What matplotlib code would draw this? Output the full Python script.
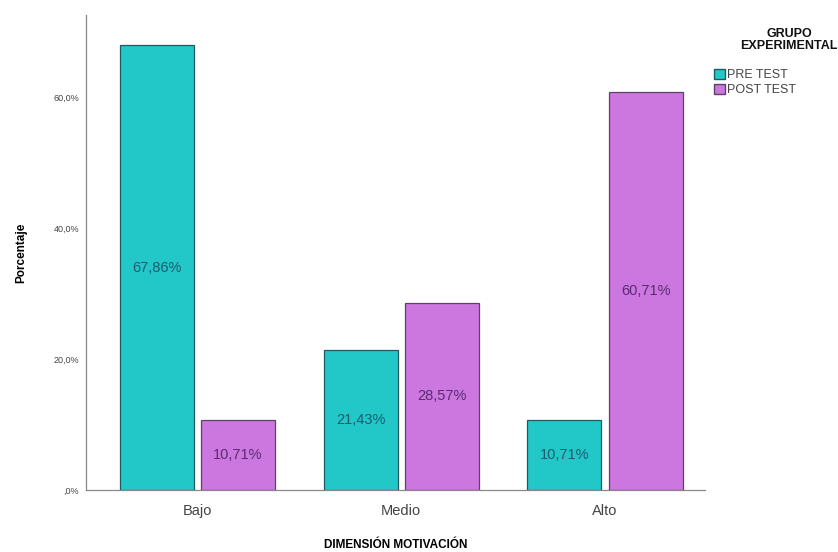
import matplotlib
matplotlib.use("Agg")
import matplotlib.pyplot as plt
import numpy as np
from matplotlib.patches import Patch

categories = ["Bajo", "Medio", "Alto"]
pre_test = [67.86, 21.43, 10.71]
post_test = [10.71, 28.57, 60.71]
series_names = ["PRE TEST", "POST TEST"]
legend_title = "GRUPO\nEXPERIMENTAL"
ytick_vals = [0, 20, 40, 60]
ytick_labels = [",0%", "20,0%", "40,0%", "60,0%"]

plt.rcParams['font.family'] = ['Liberation Sans', 'DejaVu Sans']

W, H = 838, 552
fig = plt.figure(figsize=(W / 100, H / 100), dpi=100)
ax = fig.add_axes([86 / W, 1 - 490 / H, (705 - 86) / W, (490 - 15) / H])

x = np.arange(len(categories))
w = 0.363
off = 0.199
teal = "#22c8c8"
purple = "#cc77e0"
teal_edge = "#1f5a60"
purple_edge = "#5e4266"

b1 = ax.bar(x - off, pre_test, w, color=teal, edgecolor=teal_edge, linewidth=0.9)
b2 = ax.bar(x + off, post_test, w, color=purple, edgecolor=purple_edge, linewidth=0.9)

def fmt(v):
    return f"{v:.2f}".replace(".", ",") + "%"

for bars, vals, c in [(b1, pre_test, "#1d5a72"), (b2, post_test, "#5a2a72")]:
    for r, v in zip(bars, vals):
        ax.text(r.get_x() + r.get_width() / 2, v / 2, fmt(v), ha="center", va="center",
                fontsize=10.5, color=c)

ax.set_xlim(-0.545, 2.49)
ax.set_ylim(0, 72.5)
ax.set_xticks(x)
ax.set_xticklabels(categories, fontsize=10.5, color="#444444")
ax.set_yticks(ytick_vals)
ax.set_yticklabels(ytick_labels, fontsize=6.5, color="#444444")
ax.tick_params(axis="both", length=0)
ax.tick_params(axis="y", pad=5)
ax.tick_params(axis="x", pad=10)
for s in ["top", "right"]:
    ax.spines[s].set_visible(False)
for s in ["left", "bottom"]:
    ax.spines[s].set_color("#888888")
    ax.spines[s].set_linewidth(0.9)

ax.set_xlabel("DIMENSIÓN MOTIVACIÓN", fontsize=8.5, fontweight="bold", labelpad=15)
ax.set_ylabel("Porcentaje", fontsize=8.5, fontweight="bold", labelpad=19)

fig.text(789 / W, 1 - 28 / H, legend_title, ha="center", va="top", fontsize=9,
         fontweight="bold", linespacing=1.05, color="#111111")

handles = [Patch(facecolor=teal, edgecolor=teal_edge), Patch(facecolor=purple, edgecolor=purple_edge)]
leg = fig.legend(handles, series_names, loc="upper left",
                 bbox_to_anchor=(714 / W, 1 - 69 / H), frameon=False, fontsize=9,
                 handlelength=0.85, handleheight=0.85,
                 handletextpad=0.2, labelspacing=0.2, borderpad=0, borderaxespad=0)
for t in leg.get_texts():
    t.set_color("#444444")

fig.savefig("out.png", dpi=100)
